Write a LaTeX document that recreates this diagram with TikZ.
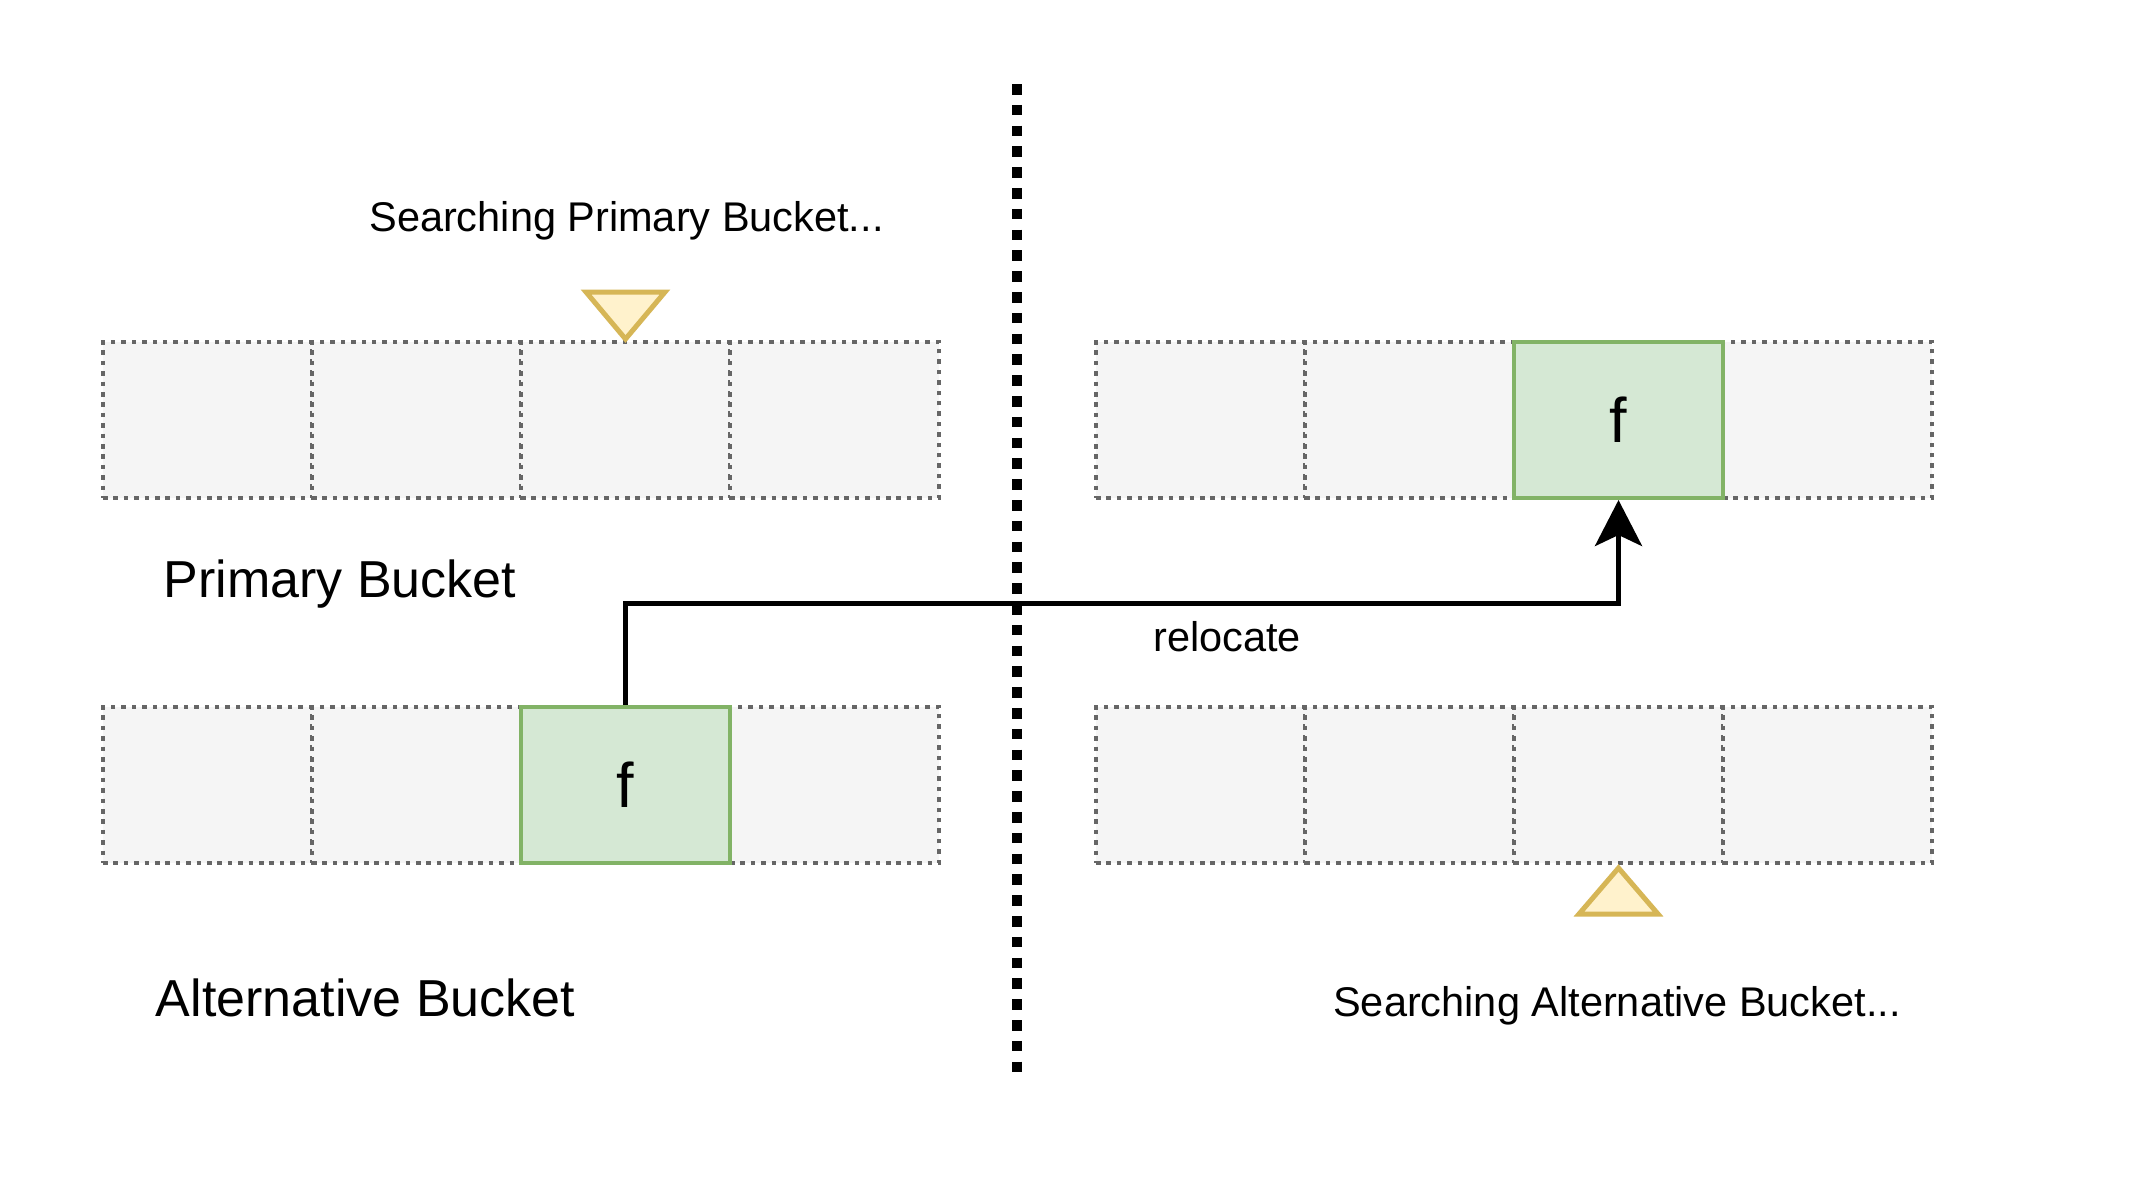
\documentclass[tikz,border=0pt]{standalone}
\usepackage{fontspec}
\setmainfont{Liberation Sans}
\usetikzlibrary{arrows.meta,calc}
\definecolor{cellgray}{HTML}{666666}
\definecolor{cellfill}{HTML}{F5F5F5}
\definecolor{greenline}{HTML}{82B366}
\definecolor{greenfill}{HTML}{D5E8D4}
\definecolor{yelline}{HTML}{D6B656}
\definecolor{yelfill}{HTML}{FFF2CC}
\begin{document}
\begin{tikzpicture}[x=1pt,y=-1pt,
  cellbox/.style={rectangle,draw=cellgray,fill=cellfill,line width=4.5pt,
    dash pattern=on 4.5pt off 5.9pt,minimum width=209pt,minimum height=156pt,inner sep=0pt},
  greenbox/.style={rectangle,draw=greenline,fill=greenfill,line width=4pt,
    minimum width=209pt,minimum height=156pt,inner sep=0pt,
    font=\fontsize{63}{70}\selectfont},
  pointer/.style={draw=yelline,fill=yelfill,line width=5pt,line join=miter},
  divider/.style={draw=black,line width=10.5pt,dash pattern=on 10.5pt off 10.3pt},
  conn/.style={draw=black,line width=5pt,
    -{Stealth[length=46pt,width=47pt,inset=11pt]}},
  smalltext/.style={inner sep=0pt,font=\fontsize{41.5}{50}\selectfont},
  bigtext/.style={inner sep=0pt,font=\fontsize{52}{62}\selectfont}]
\useasboundingbox (0,0) rectangle (2150,1200);
\fill[white] (0,0) rectangle (2150,1200);

% divider
\coordinate (dtop) at (1017,84);
\coordinate (dbot) at (1017,1072);
\draw[divider] (dtop) -- (dbot);

% left primary bucket row
\node[cellbox] (lp1) at (207.5,420) {};
\node[cellbox] (lp2) at (416.5,420) {};
\node[cellbox] (lp3) at (625.5,420) {};
\node[cellbox] (lp4) at (834.5,420) {};
% left alternative bucket row
\node[cellbox] (la1) at (207.5,785) {};
\node[cellbox] (la2) at (416.5,785) {};
\node[cellbox] (la4) at (834.5,785) {};
\node[greenbox] (la3) at (625.5,785) {f};

% right primary bucket row
\node[cellbox] (rp1) at (1200.5,420) {};
\node[cellbox] (rp2) at (1409.5,420) {};
\node[cellbox] (rp4) at (1827.5,420) {};
\node[greenbox] (rp3) at (1618.5,420) {f};
% right alternative bucket row
\node[cellbox] (ra1) at (1200.5,785) {};
\node[cellbox] (ra2) at (1409.5,785) {};
\node[cellbox] (ra3) at (1618.5,785) {};
\node[cellbox] (ra4) at (1827.5,785) {};

% pointers
\draw[pointer] (586,292) -- (665,292) -- (625.5,339) -- cycle;
\draw[pointer] (1618.5,868) -- (1658,914) -- (1579,914) -- cycle;

% labels
\node[smalltext] (sp) at (626.5,221) {Searching Primary Bucket...};
\node[bigtext] (pb) at (340,584) {Primary Bucket};
\node[bigtext] (ab) at (365.5,998) {Alternative Bucket};
\node[smalltext] (sa) at (1617,1006) {Searching Alternative Bucket...};
\node[smalltext] (rl) at (1227,637) {relocate};

% relocate connector
\draw[conn] (la3.north) -- ++(0,-102) -| (rp3.south);
\end{tikzpicture}
\end{document}
